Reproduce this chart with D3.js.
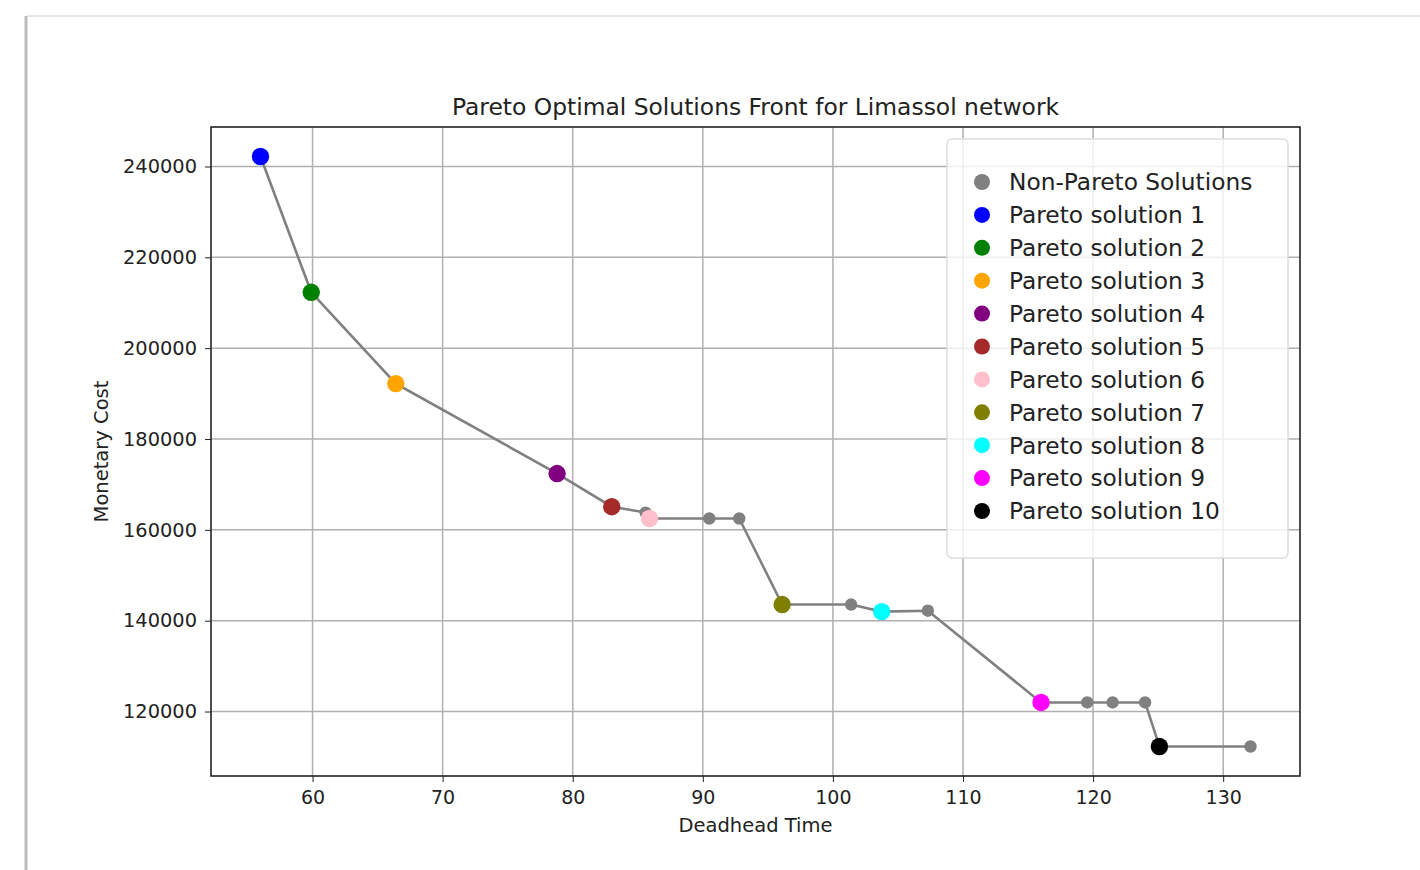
<!DOCTYPE html>
<meta charset="utf-8">
<title>Pareto Optimal Solutions Front</title>
<style>
    body { margin: 0; background: #fff; }
    text { font-family: "DejaVu Sans", sans-serif; fill: #222; }
    .grid line { stroke: #b0b0b0; stroke-width: 1.5; }
    .axis path, .axis line { stroke: #222; }
</style>
<svg width="1420" height="870"></svg>
<script src="https://d3js.org/d3.v7.min.js"></script>
<script>
    // solutions, in order along the front
    var deadhead = [56.0, 59.9, 66.4, 78.8, 83.0, 85.6, 85.9, 90.5, 92.8, 96.1, 101.4, 103.75, 107.3, 116.0, 119.55, 121.5, 124.0, 125.1, 132.1];
    var cost = [242200, 212300, 192200, 172400, 165100, 163800, 162500, 162500, 162500, 143550, 143550, 142000, 142200, 122000, 122000, 122000, 122000, 112300, 112300];
    // 0 = non-pareto, otherwise pareto solution number
    var paretoId = [1, 2, 3, 4, 5, 0, 6, 0, 0, 7, 0, 8, 0, 9, 0, 0, 0, 10, 0];

    var legendLabels = ["Non-Pareto Solutions", "Pareto solution 1", "Pareto solution 2", "Pareto solution 3",
        "Pareto solution 4", "Pareto solution 5", "Pareto solution 6", "Pareto solution 7",
        "Pareto solution 8", "Pareto solution 9", "Pareto solution 10"];
    var colors = ["gray", "blue", "green", "orange", "purple", "brown", "pink", "olive", "cyan", "magenta", "black"];
    var xTicks = [60, 70, 80, 90, 100, 110, 120, 130];
    var yTicks = [120000, 140000, 160000, 180000, 200000, 220000, 240000];

    var svg = d3.select("svg");

    // page edge of the document screenshot
    svg.append("line").attr("x1", 27).attr("x2", 1420).attr("y1", 16).attr("y2", 16)
        .attr("stroke", "#e6e6e6").attr("stroke-width", 2);
    svg.append("line").attr("x1", 26).attr("x2", 26).attr("y1", 16).attr("y2", 870)
        .attr("stroke", "#bbb").attr("stroke-width", 3);

    var pLeft = 211, pRight = 1300, pTop = 127, pBottom = 776;

    var data = deadhead.map(function(d, i) {
        return {x: d, y: cost[i], id: paretoId[i]};
    });

    var xPad = (d3.max(deadhead) - d3.min(deadhead)) * 0.05,
        yPad = (d3.max(cost) - d3.min(cost)) * 0.05;

    var x = d3.scaleLinear()
        .domain([d3.min(deadhead) - xPad, d3.max(deadhead) + xPad])
        .range([pLeft, pRight]);
    var y = d3.scaleLinear()
        .domain([d3.min(cost) - yPad, d3.max(cost) + yPad])
        .range([pBottom, pTop]);

    var g = svg.append("g");

    // grid
    g.append("g").attr("class", "grid").selectAll("line").data(xTicks).enter().append("line")
        .attr("x1", function(d) { return x(d); }).attr("x2", function(d) { return x(d); })
        .attr("y1", pTop).attr("y2", pBottom);
    g.append("g").attr("class", "grid").selectAll("line").data(yTicks).enter().append("line")
        .attr("y1", function(d) { return y(d); }).attr("y2", function(d) { return y(d); })
        .attr("x1", pLeft).attr("x2", pRight);

    // line through all solutions
    g.append("path")
        .datum(data)
        .attr("fill", "none")
        .attr("stroke", "#808080")
        .attr("stroke-width", 2.6)
        .attr("d", d3.line().x(function(d) { return x(d.x); }).y(function(d) { return y(d.y); }));

    // non-pareto first, pareto on top
    g.selectAll(".pt").data(data.slice().sort(function(a, b) { return (a.id > 0) - (b.id > 0); }))
        .enter().append("circle")
        .attr("cx", function(d) { return x(d.x); })
        .attr("cy", function(d) { return y(d.y); })
        .attr("r", function(d) { return d.id ? 8.7 : 6.2; })
        .attr("fill", function(d) { return colors[d.id]; });

    // axes
    var xAxis = svg.append("g").attr("class", "axis")
        .attr("transform", "translate(0," + pBottom + ")")
        .call(d3.axisBottom(x).tickValues(xTicks).tickSize(6).tickPadding(6).tickSizeOuter(0));
    var yAxis = svg.append("g").attr("class", "axis")
        .attr("transform", "translate(" + pLeft + ",0)")
        .call(d3.axisLeft(y).tickValues(yTicks).tickFormat(d3.format("d")).tickSize(6).tickPadding(8).tickSizeOuter(0));
    xAxis.selectAll("text").style("font-size", "19px").attr("dy", "0.85em");
    yAxis.selectAll("text").style("font-size", "19.4px");
    xAxis.select(".domain").remove();
    yAxis.select(".domain").remove();

    svg.append("rect").attr("x", pLeft).attr("y", pTop)
        .attr("width", pRight - pLeft).attr("height", pBottom - pTop)
        .attr("fill", "none").attr("stroke", "#222").attr("stroke-width", 1.6);

    // titles
    svg.append("text").attr("x", (pLeft + pRight) / 2).attr("y", 115)
        .attr("text-anchor", "middle").style("font-size", "23.4px")
        .text("Pareto Optimal Solutions Front for Limassol network");
    svg.append("text").attr("x", (pLeft + pRight) / 2).attr("y", 832)
        .attr("text-anchor", "middle").style("font-size", "19.5px")
        .text("Deadhead Time");
    svg.append("text").attr("transform", "translate(108," + (pTop + pBottom) / 2 + ") rotate(-90)")
        .attr("text-anchor", "middle").style("font-size", "19.5px")
        .text("Monetary Cost");

    // legend
    var legend = svg.append("g").attr("transform", "translate(947,139)");
    legend.append("rect").attr("width", 341).attr("height", 419).attr("rx", 5)
        .attr("fill", "rgba(255,255,255,0.8)").attr("stroke", "#ddd").attr("stroke-width", 1.5);
    var item = legend.selectAll(".item").data(legendLabels).enter().append("g")
        .attr("transform", function(d, i) { return "translate(0," + (43 + i * 32.9) + ")"; });
    item.append("circle").attr("cx", 35).attr("r", 8)
        .attr("fill", function(d, i) { return colors[i]; });
    item.append("text").attr("x", 62).attr("dy", "0.36em").style("font-size", "23.3px")
        .text(function(d) { return d; });
</script>
